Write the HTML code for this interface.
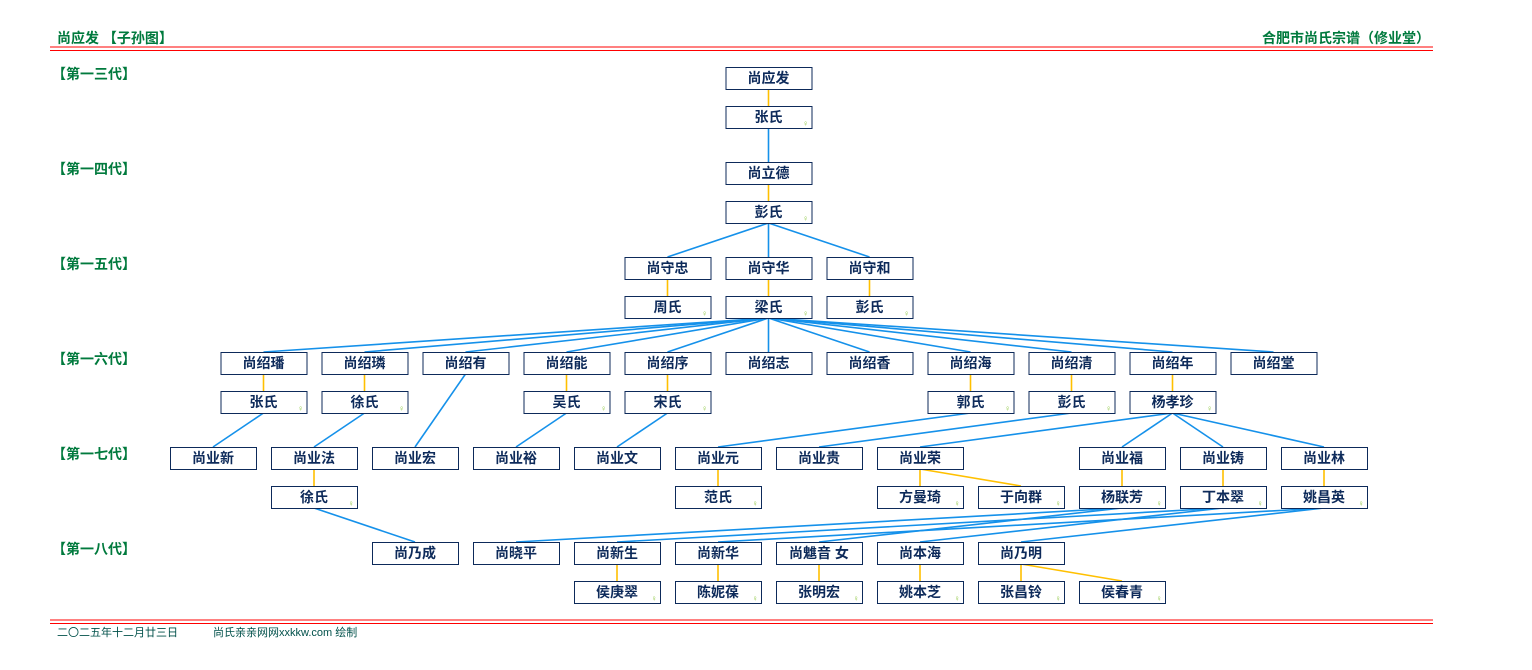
<!DOCTYPE html>
<html><head><meta charset="utf-8"><style>
html,body{margin:0;padding:0;background:#fff;width:1532px;height:670px;overflow:hidden}
svg{display:block}
.t{font-family:"Liberation Sans","Noto Sans CJK SC","WenQuanYi Zen Hei",sans-serif}
</style></head><body>
<svg id="s" width="1532" height="670" xmlns="http://www.w3.org/2000/svg" class="t">
<text x="57" y="43" font-size="14" font-weight="bold" fill="#007a3d">尚应发 【子孙图】</text>
<text x="1430" y="43" font-size="14" font-weight="bold" fill="#007a3d" text-anchor="end">合肥市尚氏宗谱（修业堂）</text>
<line x1="50" y1="47" x2="1433" y2="47" stroke="#f00" stroke-width="1"/>
<line x1="50" y1="50.5" x2="1433" y2="50.5" stroke="#f00" stroke-width="1"/>
<line x1="50" y1="620" x2="1433" y2="620" stroke="#f00" stroke-width="1"/>
<line x1="50" y1="623.5" x2="1433" y2="623.5" stroke="#f00" stroke-width="1"/>
<text x="57" y="636" font-size="11" fill="#00504a">二〇二五年十二月廿三日</text>
<text x="213" y="636" font-size="11" fill="#00504a">尚氏亲亲网网xxkkw.com 绘制</text>
<g id="g"></g>
</svg>
<script>
(function(){
var g=document.getElementById('g'),NS='http://www.w3.org/2000/svg';
function el(t,a,txt){var e=document.createElementNS(NS,t);for(var k in a)e.setAttribute(k,a[k]);if(txt)e.textContent=txt;g.appendChild(e);return e;}
var labels=['【第一三代】','【第一四代】','【第一五代】','【第一六代】','【第一七代】','【第一八代】'];
var ly=[79,174,269,364,459,554];
labels.forEach(function(l,i){el('text',{x:52,y:ly[i],'font-size':14,'font-weight':'bold',fill:'#007a3d'},l)});
var rowH=[67,106,162,201,257,296,352,391,447,486,542,581];
function X(k){return 170+50.5*k;}
function cx(k){return X(k)+43;}
var nodes=[
[0,11,'尚应发',0],[1,11,'张氏',1],
[2,11,'尚立德',0],[3,11,'彭氏',1],
[4,9,'尚守忠',0],[4,11,'尚守华',0],[4,13,'尚守和',0],
[5,9,'周氏',1],[5,11,'梁氏',1],[5,13,'彭氏',1],
[6,1,'尚绍璠'],[6,3,'尚绍璘'],[6,5,'尚绍有'],[6,7,'尚绍能'],[6,9,'尚绍序'],[6,11,'尚绍志'],[6,13,'尚绍香'],[6,15,'尚绍海'],[6,17,'尚绍清'],[6,19,'尚绍年'],[6,21,'尚绍堂'],
[7,1,'张氏',1],[7,3,'徐氏',1],[7,7,'吴氏',1],[7,9,'宋氏',1],[7,15,'郭氏',1],[7,17,'彭氏',1],[7,19,'杨孝珍',1],
[8,0,'尚业新'],[8,2,'尚业法'],[8,4,'尚业宏'],[8,6,'尚业裕'],[8,8,'尚业文'],[8,10,'尚业元'],[8,12,'尚业贵'],[8,14,'尚业荣'],[8,18,'尚业福'],[8,20,'尚业铸'],[8,22,'尚业林'],
[9,2,'徐氏',1],[9,10,'范氏',1],[9,14,'方曼琦',1],[9,16,'于向群',1],[9,18,'杨联芳',1],[9,20,'丁本翠',1],[9,22,'姚昌英',1],
[10,4,'尚乃成'],[10,6,'尚晓平'],[10,8,'尚新生'],[10,10,'尚新华'],[10,12,'尚魋音 女'],[10,14,'尚本海'],[10,16,'尚乃明'],
[11,8,'侯庚翠',1],[11,10,'陈妮葆',1],[11,12,'张明宏',1],[11,14,'姚本芝',1],[11,16,'张昌铃',1],[11,18,'侯春青',1]
];
var B='#1591ea',Y='#ffc000';
function ln(x1,y1,x2,y2,c){el('line',{x1:x1,y1:y1,x2:x2,y2:y2,stroke:c,'stroke-width':1.6});}
function bt(r){return rowH[r]+22;}
function tp(r){return rowH[r];}
[[0,11,11],[2,11,11],[4,9,9],[4,11,11],[4,13,13],[6,1,1],[6,3,3],[6,7,7],[6,9,9],[6,15,15],[6,17,17],[6,19,19],[8,2,2],[8,10,10],[8,14,14],[8,14,16],[8,18,18],[8,20,20],[8,22,22],[10,8,8],[10,10,10],[10,12,12],[10,14,14],[10,16,16],[10,16,18]].forEach(function(s){ln(cx(s[1]),bt(s[0]),cx(s[2]),tp(s[0]+1),Y);});
var ch=[[1,11,2,11],[3,11,4,9],[3,11,4,11],[3,11,4,13]];
[1,3,5,7,9,11,13,15,17,19,21].forEach(function(k){ch.push([5,11,6,k]);});
ch.push([7,1,8,0],[7,3,8,2],[6,5,8,4],[7,7,8,6],[7,9,8,8],[7,15,8,10],[7,17,8,12],[7,19,8,14],[7,19,8,18],[7,19,8,20],[7,19,8,22]);
ch.push([9,2,10,4],[9,18,10,6],[9,20,10,8],[9,22,10,10],[9,18,10,12],[9,20,10,14],[9,22,10,16]);
ch.forEach(function(c){ln(cx(c[1]),bt(c[0]),cx(c[3]),tp(c[2]),B);});
nodes.forEach(function(n){var x=X(n[1]),y=rowH[n[0]];
el('rect',{x:x+0.5,y:y+0.5,width:86,height:22,fill:'#fff',stroke:'#0d2a5a','stroke-width':1});
el('text',{x:x+43,y:y+16,'font-size':14,'font-weight':'bold',fill:'#0d2a5a','text-anchor':'middle'},n[2]);
if(n[3])el('text',{x:x+83,y:y+20,'font-size':8,fill:'#8cc63f','text-anchor':'end'},'♀');
});
})();
</script>
</body></html>
